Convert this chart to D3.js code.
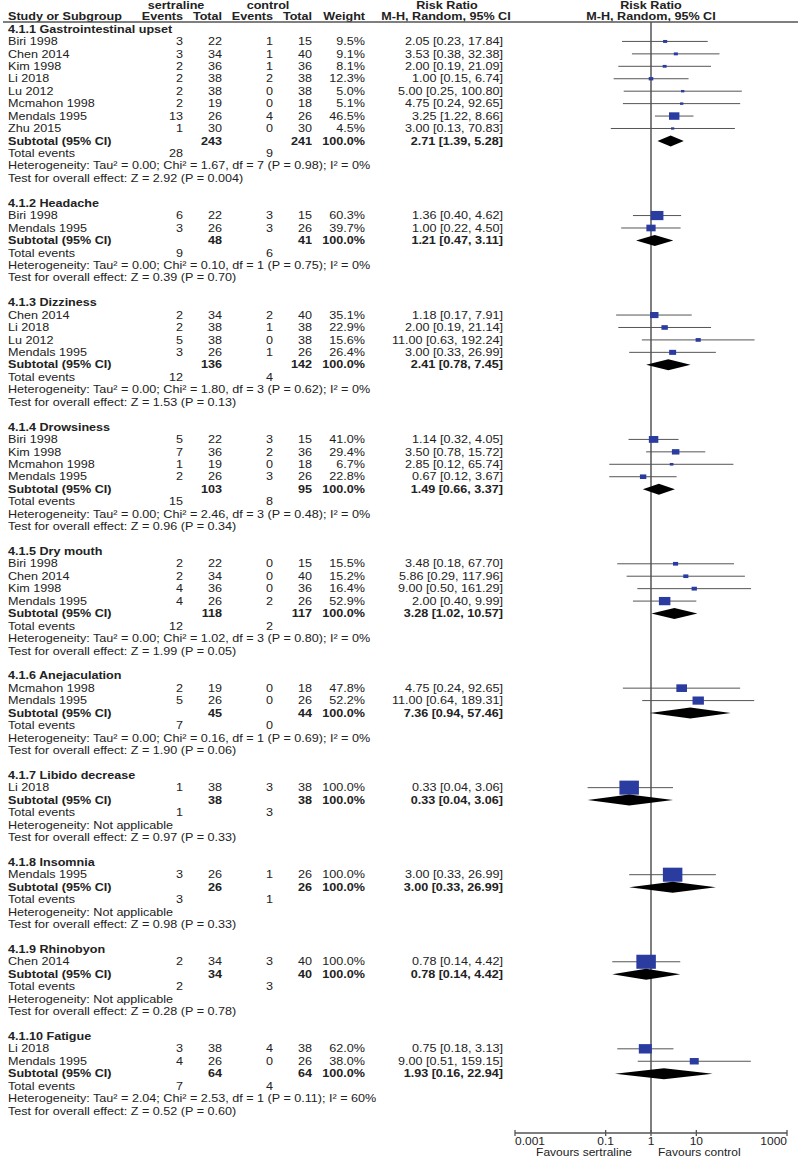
<!DOCTYPE html>
<html>
<head>
<meta charset="utf-8">
<script src="https://cdn.jsdelivr.net/npm/d3@7"></script>
<style>
  body { margin: 0; background: #fff; }
  svg text { font-family: "Liberation Sans", Arial, sans-serif; font-size: 10.5px; fill: #222; }
  .bold { font-weight: bold; }
</style>
</head>
<body>
<div id="chart"></div>
<script>
// ---- data ----
const groupNames = ['4.1.1 Gastrointestinal upset', '4.1.2 Headache', '4.1.3 Dizziness', '4.1.4 Drowsiness',
  '4.1.5 Dry mouth', '4.1.6 Anejaculation', '4.1.7 Libido decrease', '4.1.8 Insomnia', '4.1.9 Rhinobyon', '4.1.10 Fatigue'];

const studyNames = ['Biri 1998', 'Chen 2014', 'Kim 1998', 'Li 2018', 'Lu 2012', 'Mcmahon 1998', 'Mendals 1995', 'Zhu 2015',
  'Biri 1998', 'Mendals 1995',
  'Chen 2014', 'Li 2018', 'Lu 2012', 'Mendals 1995',
  'Biri 1998', 'Kim 1998', 'Mcmahon 1998', 'Mendals 1995',
  'Biri 1998', 'Chen 2014', 'Kim 1998', 'Mendals 1995',
  'Mcmahon 1998', 'Mendals 1995',
  'Li 2018',
  'Mendals 1995',
  'Chen 2014',
  'Li 2018', 'Mendals 1995'];
const studyGroup = [0,0,0,0,0,0,0,0, 1,1, 2,2,2,2, 3,3,3,3, 4,4,4,4, 5,5, 6, 7, 8, 9,9];
const sertEvents = [3,3,2,2,2,2,13,1, 6,3, 2,2,5,3, 5,7,1,2, 2,2,4,4, 2,5, 1, 3, 2, 3,4];
const sertTotal  = [22,34,36,38,38,19,26,30, 22,26, 34,38,38,26, 22,36,19,26, 22,34,36,26, 19,26, 38, 26, 34, 38,26];
const ctrlEvents = [1,1,1,2,0,0,4,0, 3,3, 2,1,0,1, 3,2,0,3, 0,0,0,2, 0,0, 3, 1, 3, 4,0];
const ctrlTotal  = [15,40,36,38,38,18,26,30, 15,26, 40,38,38,26, 15,36,18,26, 15,40,36,26, 18,26, 38, 26, 40, 38,26];
const weights    = [9.5,9.1,8.1,12.3,5.0,5.1,46.5,4.5, 60.3,39.7, 35.1,22.9,15.6,26.4, 41.0,29.4,6.7,22.8,
  15.5,15.2,16.4,52.9, 47.8,52.2, 100, 100, 100, 62.0,38.0];
const rr   = [2.05,3.53,2.00,1.00,5.00,4.75,3.25,3.00, 1.36,1.00, 1.18,2.00,11.00,3.00, 1.14,3.50,2.85,0.67,
  3.48,5.86,9.00,2.00, 4.75,11.00, 0.33, 3.00, 0.78, 0.75,9.00];
const ciLow  = [0.23,0.38,0.19,0.15,0.25,0.24,1.22,0.13, 0.40,0.22, 0.17,0.19,0.63,0.33, 0.32,0.78,0.12,0.12,
  0.18,0.29,0.50,0.40, 0.24,0.64, 0.04, 0.33, 0.14, 0.18,0.51];
const ciHigh = [17.84,32.38,21.09,6.74,100.80,92.65,8.66,70.83, 4.62,4.50, 7.91,21.14,192.24,26.99, 4.05,15.72,65.74,3.67,
  67.70,117.96,161.29,9.99, 92.65,189.31, 3.06, 26.99, 4.42, 3.13,159.15];

const subSertTotal = [243, 48, 136, 103, 118, 45, 38, 26, 34, 64];
const subCtrlTotal = [241, 41, 142, 95, 117, 44, 38, 26, 40, 64];
const subRR   = [2.71, 1.21, 2.41, 1.49, 3.28, 7.36, 0.33, 3.00, 0.78, 1.93];
const subLow  = [1.39, 0.47, 0.78, 0.66, 1.02, 0.94, 0.04, 0.33, 0.14, 0.16];
const subHigh = [5.28, 3.11, 7.45, 3.37, 10.57, 57.46, 3.06, 26.99, 4.42, 22.94];
const totalSertEvents = [28, 9, 12, 15, 12, 7, 1, 3, 2, 7];
const totalCtrlEvents = [9, 6, 4, 8, 2, 0, 3, 1, 3, 4];
const heterogeneity = [
  'Tau² = 0.00; Chi² = 1.67, df = 7 (P = 0.98); I² = 0%',
  'Tau² = 0.00; Chi² = 0.10, df = 1 (P = 0.75); I² = 0%',
  'Tau² = 0.00; Chi² = 1.80, df = 3 (P = 0.62); I² = 0%',
  'Tau² = 0.00; Chi² = 2.46, df = 3 (P = 0.48); I² = 0%',
  'Tau² = 0.00; Chi² = 1.02, df = 3 (P = 0.80); I² = 0%',
  'Tau² = 0.00; Chi² = 0.16, df = 1 (P = 0.69); I² = 0%',
  'Not applicable', 'Not applicable', 'Not applicable',
  'Tau² = 2.04; Chi² = 2.53, df = 1 (P = 0.11); I² = 60%'];
const overallEffect = ['Z = 2.92 (P = 0.004)', 'Z = 0.39 (P = 0.70)', 'Z = 1.53 (P = 0.13)', 'Z = 0.96 (P = 0.34)',
  'Z = 1.99 (P = 0.05)', 'Z = 1.90 (P = 0.06)', 'Z = 0.97 (P = 0.33)', 'Z = 0.98 (P = 0.33)',
  'Z = 0.28 (P = 0.78)', 'Z = 0.52 (P = 0.60)'];

const axisTicks = [0.001, 0.1, 1, 10, 1000];
const axisTickLabels = ['0.001', '0.1', '1', '10', '1000'];

// ---- layout ----
const width = 800, height = 1158;
const col = {name: 8, sEv: 183, sTot: 222, cEv: 273, cTot: 312, weight: 365, ci: 503};
const stretch = 1.2;   // the original text is set wider than it is tall
const fmt2 = d3.format('.2f'), fmt1 = d3.format('.1f');

// Build the row list
const rows = [];
groupNames.forEach((g, gi) => {
  rows.push({type: 'header', g: gi});
  studyNames.forEach((s, i) => { if (studyGroup[i] === gi) rows.push({type: 'study', i: i}); });
  rows.push({type: 'subtotal', g: gi});
  rows.push({type: 'events', g: gi});
  rows.push({type: 'het', g: gi});
  rows.push({type: 'effect', g: gi});
  if (gi < groupNames.length - 1) rows.push({type: 'blank'});
});
rows.forEach((r, k) => r.idx = k);

const yRow = d3.scaleLinear().domain([0, rows.length - 1]).range([29, 1111]);
const x = d3.scaleLog().domain([0.001, 1000]).range([515, 787]);
const boxW = d3.scaleLinear().domain([0, 100]).range([2.5, 19.5]);

const svg = d3.select('#chart').append('svg')
    .attr('width', width)
    .attr('height', height);

// put a text at (tx, ty), stretched horizontally round its anchor
function addText(parent, tx, ty, txt, anchor, bold) {
  return parent.append('text')
      .attr('transform', `translate(${tx},${ty}) scale(${stretch},1)`)
      .attr('dy', '0.35em')
      .attr('text-anchor', anchor)
      .attr('class', bold ? 'bold' : null)
      .text(txt);
}

// Column headers
const head = svg.append('g');
addText(head, 176, 5, 'sertraline', 'middle', true);
addText(head, 268, 5, 'control', 'middle', true);
addText(head, 447, 5, 'Risk Ratio', 'middle', true);
addText(head, 651, 5, 'Risk Ratio', 'middle', true);
addText(head, col.name, 16.5, 'Study or Subgroup', 'start', true);
addText(head, col.sEv, 16.5, 'Events', 'end', true);
addText(head, col.sTot, 16.5, 'Total', 'end', true);
addText(head, col.cEv, 16.5, 'Events', 'end', true);
addText(head, col.cTot, 16.5, 'Total', 'end', true);
addText(head, col.weight, 16.5, 'Weight', 'end', true);
addText(head, 446, 16.5, 'M-H, Random, 95% CI', 'middle', true);
addText(head, 651, 16.5, 'M-H, Random, 95% CI', 'middle', true);

svg.append('line')
    .attr('x1', 3).attr('x2', 798).attr('y1', 22).attr('y2', 22)
    .attr('stroke', '#555').attr('stroke-width', 1.3);

// Line of no effect
svg.append('line')
    .attr('x1', x(1)).attr('x2', x(1)).attr('y1', 22).attr('y2', 1133)
    .attr('stroke', '#555').attr('stroke-width', 1.5);

// Table text
const table = svg.append('g');
const cell = (r, tx, txt, anchor, bold) => addText(table, tx, yRow(r.idx), txt, anchor, bold);

rows.forEach(r => {
  if (r.type === 'header') {
    cell(r, col.name, groupNames[r.g], 'start', true);
  } else if (r.type === 'study') {
    const i = r.i;
    cell(r, col.name, studyNames[i], 'start');
    cell(r, col.sEv, sertEvents[i], 'end');
    cell(r, col.sTot, sertTotal[i], 'end');
    cell(r, col.cEv, ctrlEvents[i], 'end');
    cell(r, col.cTot, ctrlTotal[i], 'end');
    cell(r, col.weight, fmt1(weights[i]) + '%', 'end');
    cell(r, col.ci, `${fmt2(rr[i])} [${fmt2(ciLow[i])}, ${fmt2(ciHigh[i])}]`, 'end');
  } else if (r.type === 'subtotal') {
    const g = r.g;
    cell(r, col.name, 'Subtotal (95% CI)', 'start', true);
    cell(r, col.sTot, subSertTotal[g], 'end', true);
    cell(r, col.cTot, subCtrlTotal[g], 'end', true);
    cell(r, col.weight, '100.0%', 'end', true);
    cell(r, col.ci, `${fmt2(subRR[g])} [${fmt2(subLow[g])}, ${fmt2(subHigh[g])}]`, 'end', true);
  } else if (r.type === 'events') {
    cell(r, col.name, 'Total events', 'start');
    cell(r, col.sEv, totalSertEvents[r.g], 'end');
    cell(r, col.cEv, totalCtrlEvents[r.g], 'end');
  } else if (r.type === 'het') {
    cell(r, col.name, 'Heterogeneity: ' + heterogeneity[r.g], 'start');
  } else if (r.type === 'effect') {
    cell(r, col.name, 'Test for overall effect: ' + overallEffect[r.g], 'start');
  }
});

// Study CIs and boxes
const studyRows = rows.filter(r => r.type === 'study');
svg.append('g').selectAll('line')
    .data(studyRows)
    .join('line')
    .attr('x1', r => x(ciLow[r.i]))
    .attr('x2', r => x(ciHigh[r.i]))
    .attr('y1', r => yRow(r.idx))
    .attr('y2', r => yRow(r.idx))
    .attr('stroke', '#555')
    .attr('stroke-width', 1);

svg.append('g').selectAll('rect')
    .data(studyRows)
    .join('rect')
    .attr('x', r => x(rr[r.i]) - boxW(weights[r.i]) / 2)
    .attr('y', r => yRow(r.idx) - boxW(weights[r.i]) * 0.36)
    .attr('width', r => boxW(weights[r.i]))
    .attr('height', r => boxW(weights[r.i]) * 0.72)
    .attr('fill', '#2b3ca0');

// Subtotal diamonds
const subRows = rows.filter(r => r.type === 'subtotal');
svg.append('g').selectAll('path')
    .data(subRows)
    .join('path')
    .attr('d', r => {
      const cy = yRow(r.idx), h = 5.5;
      return `M${x(subLow[r.g])},${cy} L${x(subRR[r.g])},${cy - h} L${x(subHigh[r.g])},${cy} L${x(subRR[r.g])},${cy + h} Z`;
    })
    .attr('fill', '#000');

// Axis
const axisY = 1133;
const axisG = svg.append('g').attr('transform', `translate(0,${axisY})`);
axisG.append('line')
    .attr('x1', x.range()[0]).attr('x2', x.range()[1])
    .attr('stroke', '#555').attr('stroke-width', 1.3);
axisG.selectAll('.tick')
    .data(axisTicks)
    .join('line')
    .attr('class', 'tick')
    .attr('x1', d => x(d)).attr('x2', d => x(d))
    .attr('y1', -3).attr('y2', 3)
    .attr('stroke', '#555').attr('stroke-width', 1.3);
axisTicks.forEach((d, i) => {
  const anchor = i === 0 ? 'start' : (i === axisTicks.length - 1 ? 'end' : 'middle');
  addText(axisG, x(d), 8.5, axisTickLabels[i], anchor).style('font-size', '10px');
});
addText(axisG, x(1) - 19, 19.5, 'Favours sertraline', 'end').style('font-size', '10px');
addText(axisG, x(1) + 7, 19.5, 'Favours control', 'start').style('font-size', '10px');
</script>
</body>
</html>
